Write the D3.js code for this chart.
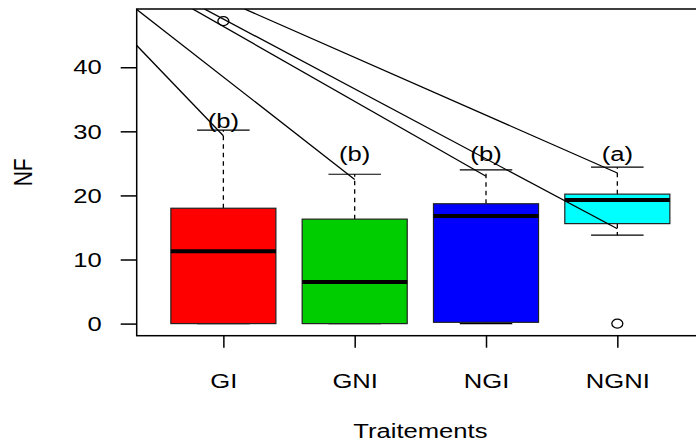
<!DOCTYPE html>
<html>
<head>
<meta charset="utf-8">
<script src="https://cdn.jsdelivr.net/npm/d3@7"></script>
<style>
  html, body { margin: 0; padding: 0; background: #fff; }
  svg text { font-family: "Liberation Sans", Arial, sans-serif; fill: #000; }
</style>
</head>
<body>
<svg id="chart"></svg>
<script>
// boxplot data
const categories = ['GI', 'GNI', 'NGI', 'NGNI'];
const colors = ['#ff0000', '#00cd00', '#0000ff', '#00ffff'];
const whiskerLow = [0, 0, 0, 13.8];
const q1 = [0, 0, 0.2, 15.6];
const median = [11.3, 6.5, 16.8, 19.3];
const q3 = [18.0, 16.3, 18.7, 20.2];
const whiskerHigh = [30.2, 23.3, 24.0, 24.4];
const outliers = [[47.2], [], [], [0]];
const letters = ['(b)', '(b)', '(b)', '(a)'];
const letterY = [31.7, 26.5, 26.5, 26.5];
const yTicks = [0, 10, 20, 30, 40];

// segments drawn over the plot (position index, value)
const segFromX = [0.335, 0.335, 0.766, 0.855, 1.16];
const segFromY = [43.5, 49.1, 49.1, 49.1, 49.1];
const segToX = [1, 2, 3, 4, 4];
const segToY = [29.3, 22.5, 23.0, 14.8, 23.5];

const width = 696, height = 442;
const stretch = 1.22; // picture is stretched horizontally
const fs = 21;

const svg = d3.select('#chart')
    .attr('width', width)
    .attr('height', height);

const n = categories.length;
// R style range: 0.5..n+0.5 plus 4%
const xDom = [0.5 - 0.16, n + 0.5 + 0.16];
const allVals = whiskerLow.concat(whiskerHigh, outliers.flat());
const yMin = d3.min(allVals), yMax = d3.max(allVals);
const yExt = (yMax - yMin) * 0.04;

const x = d3.scaleLinear().domain(xDom).range([136.7, 704]);
const y = d3.scaleLinear().domain([yMin - yExt, yMax + yExt]).range([335.7, 9]);

const boxW = 0.8;   // in index units
const capW = 0.4;

svg.append('clipPath')
    .attr('id', 'clip')
    .append('rect')
    .attr('x', x(xDom[0]))
    .attr('y', y(yMax + yExt))
    .attr('width', x(xDom[1]) - x(xDom[0]))
    .attr('height', y(yMin - yExt) - y(yMax + yExt));

const boxes = svg.selectAll('.bx')
    .data(categories)
    .enter()
    .append('g')
    .attr('class', 'bx');

// whiskers
boxes.append('line')
    .attr('x1', (d, i) => x(i + 1)).attr('x2', (d, i) => x(i + 1))
    .attr('y1', (d, i) => y(q3[i])).attr('y2', (d, i) => y(whiskerHigh[i]))
    .attr('stroke', '#000').attr('stroke-width', 1.3)
    .attr('stroke-dasharray', '4.5,4');
boxes.append('line')
    .attr('x1', (d, i) => x(i + 1)).attr('x2', (d, i) => x(i + 1))
    .attr('y1', (d, i) => y(q1[i])).attr('y2', (d, i) => y(whiskerLow[i]))
    .attr('stroke', '#000').attr('stroke-width', 1.3)
    .attr('stroke-dasharray', '4.5,4');
// caps
[whiskerHigh, whiskerLow].forEach(arr => {
    boxes.append('line')
        .attr('x1', (d, i) => x(i + 1 - capW / 2)).attr('x2', (d, i) => x(i + 1 + capW / 2))
        .attr('y1', (d, i) => y(arr[i])).attr('y2', (d, i) => y(arr[i]))
        .attr('stroke', '#000').attr('stroke-width', 1.2);
});
// boxes
boxes.append('rect')
    .attr('x', (d, i) => x(i + 1 - boxW / 2))
    .attr('width', x(1 + boxW) - x(1))
    .attr('y', (d, i) => y(q3[i]))
    .attr('height', (d, i) => y(q1[i]) - y(q3[i]))
    .attr('fill', (d, i) => colors[i])
    .attr('stroke', '#222').attr('stroke-width', 1.2);
// medians
boxes.append('line')
    .attr('x1', (d, i) => x(i + 1 - boxW / 2)).attr('x2', (d, i) => x(i + 1 + boxW / 2))
    .attr('y1', (d, i) => y(median[i])).attr('y2', (d, i) => y(median[i]))
    .attr('stroke', '#000').attr('stroke-width', 4);
// outliers
boxes.each(function (d, i) {
    d3.select(this).selectAll('ellipse')
        .data(outliers[i])
        .enter()
        .append('ellipse')
        .attr('cx', x(i + 1))
        .attr('cy', v => y(v))
        .attr('rx', 5.5).attr('ry', 4.5)
        .attr('fill', 'none').attr('stroke', '#000').attr('stroke-width', 1.3);
});

// letters above whiskers
boxes.append('text')
    .attr('transform', (d, i) => 'translate(' + x(i + 1) + ',' + y(letterY[i]) + ') scale(' + stretch + ',1)')
    .attr('dy', '0.35em')
    .attr('text-anchor', 'middle')
    .style('font-size', fs + 'px')
    .text((d, i) => letters[i]);

// segments
svg.append('g')
    .attr('clip-path', 'url(#clip)')
    .selectAll('line')
    .data(segFromX)
    .enter()
    .append('line')
    .attr('x1', (d, i) => x(segFromX[i])).attr('y1', (d, i) => y(segFromY[i]))
    .attr('x2', (d, i) => x(segToX[i])).attr('y2', (d, i) => y(segToY[i]))
    .attr('stroke', '#000').attr('stroke-width', 1.3);

// frame
svg.append('rect')
    .attr('x', x(xDom[0]))
    .attr('y', y(yMax + yExt))
    .attr('width', x(xDom[1]) - x(xDom[0]))
    .attr('height', y(yMin - yExt) - y(yMax + yExt))
    .attr('fill', 'none')
    .attr('stroke', '#000').attr('stroke-width', 1.5);

// axes
const yAxis = d3.axisLeft(y).tickValues(yTicks).tickSize(16).tickPadding(0);
const gy = svg.append('g')
    .attr('transform', 'translate(' + x(xDom[0]) + ',0)')
    .call(yAxis);
gy.select('.domain').remove();
gy.selectAll('line').attr('stroke-width', 1.5);
gy.selectAll('text')
    .attr('x', null)
    .attr('transform', 'translate(-35,0) scale(' + stretch + ',1)')
    .style('font-size', fs + 'px');

const xAxis = d3.axisBottom(x)
    .tickValues(d3.range(1, n + 1))
    .tickFormat((d) => categories[d - 1])
    .tickSize(12).tickPadding(0);
const gx = svg.append('g')
    .attr('transform', 'translate(0,' + y(yMin - yExt) + ')')
    .call(xAxis);
gx.select('.domain').remove();
gx.selectAll('line').attr('stroke-width', 1.5);
gx.selectAll('text')
    .attr('y', null).attr('dy', null)
    .attr('transform', 'translate(0,52) scale(' + stretch + ',1)')
    .style('font-size', fs + 'px');

// axis titles
svg.append('text')
    .attr('transform', 'translate(' + ((x(xDom[0]) + x(xDom[1])) / 2) + ',438) scale(' + stretch + ',1)')
    .attr('text-anchor', 'middle')
    .style('font-size', fs + 'px')
    .text('Traitements');

svg.append('text')
    .attr('transform', 'translate(31.7,' + ((y(yMax + yExt) + y(yMin - yExt)) / 2) + ') scale(' + stretch + ',1) rotate(-90)')
    .attr('text-anchor', 'middle')
    .style('font-size', fs + 'px')
    .text('NF');
</script>
</body>
</html>
